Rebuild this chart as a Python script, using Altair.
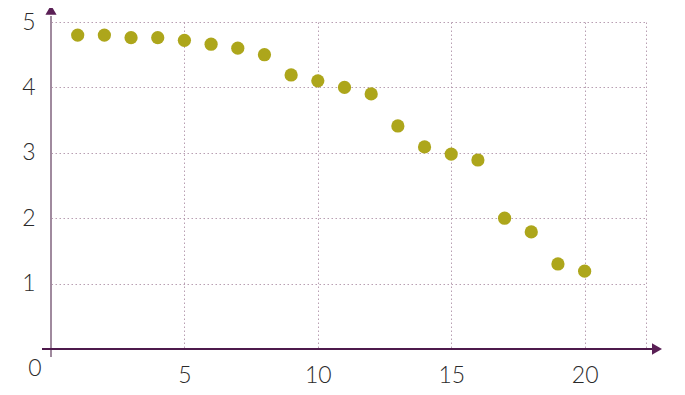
import altair as alt
import pandas as pd

xs = list(range(1, 21))
ys = [4.8, 4.8, 4.76, 4.76, 4.72, 4.66, 4.6, 4.5, 4.19, 4.1,
      4.0, 3.9, 3.41, 3.09, 2.98, 2.89, 2.0, 1.79, 1.3, 1.19]
x_ticks = [5, 10, 15, 20]
y_ticks = [1, 2, 3, 4, 5]
X_MAX = 22.3
Y_MAX = 5
origin_label = ["0"]

W, H = 595, 327
FONT = "Lato"
GRID = "#b89fb2"

df = pd.DataFrame({"x": xs, "y": ys})

xscale = alt.Scale(domain=[0, X_MAX], nice=False, zero=True)
yscale = alt.Scale(domain=[0, Y_MAX], nice=False)

common_axis = dict(
    title=None, grid=True, domain=False, ticks=False,
    labelFontSize=23, labelFont=FONT, labelFontWeight=300, labelColor="#2a2a2a",
    gridColor=GRID, gridDash=[1.5, 2.5], gridWidth=1, gridOpacity=1,
)

points = alt.Chart(df).mark_circle(size=175, color="#ADA61B", opacity=1).encode(
    x=alt.X("x:Q", scale=xscale, axis=alt.Axis(
        values=x_ticks + [X_MAX],
        labelExpr="datum.value > 21 ? '' : datum.label",
        labelPadding=15, labelBaseline="top", **common_axis)),
    y=alt.Y("y:Q", scale=yscale, axis=alt.Axis(
        values=y_ticks, labelPadding=16, labelBaseline="middle", **common_axis)),
)

one = pd.DataFrame({"a": [0]})

yline = alt.Chart(one).mark_rule(color="#a08a9e", strokeWidth=2).encode(
    x=alt.value(0), y=alt.value(335), y2=alt.value(-6))
xline = alt.Chart(one).mark_rule(color="#4e1a4c", strokeWidth=2).encode(
    x=alt.value(-9), x2=alt.value(602), y=alt.value(H))

yarrow = alt.Chart(one).mark_point(shape="triangle-up", filled=True, size=125,
                                   color="#5a1f55", opacity=1).encode(
    x=alt.value(0), y=alt.value(-12))
xarrow = alt.Chart(one).mark_point(shape="triangle-right", filled=True, size=135,
                                   color="#5a1f55", opacity=1).encode(
    x=alt.value(606), y=alt.value(H))

zero = alt.Chart(pd.DataFrame({"t": origin_label})).mark_text(
    font=FONT, fontWeight=300, fontSize=23, color="#2a2a2a",
    align="center", baseline="middle").encode(
    text="t:N", x=alt.value(-16), y=alt.value(347))

chart = alt.layer(points, yline, xline, yarrow, xarrow, zero).properties(
    width=W, height=H,
    autosize=alt.AutoSizeParams(type="none"),
    padding={"left": 43, "top": 14, "right": 31, "bottom": 38},
).configure_view(stroke=None)

chart.save("out.html", embed_options={"renderer": "svg", "actions": False})
